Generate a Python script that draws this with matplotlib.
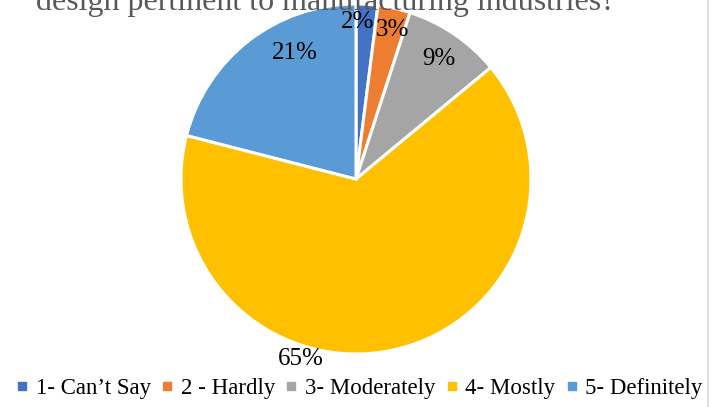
import numpy as np
import matplotlib.pyplot as plt
from matplotlib.lines import Line2D

plt.rcParams['font.family'] = ['Liberation Serif', 'DejaVu Serif']

labels = ['1- Can\u2019t Say', '2 - Hardly', '3- Moderately', '4- Mostly', '5- Definitely']
values = [2, 3, 9, 65, 21]
pct_text = ['2%', '3%', '9%', '65%', '21%']
colors = ['#4472C4', '#ED7D31', '#A5A5A5', '#FFC000', '#5B9BD5']
title = 'design pertinent to manufacturing industries?'

W, H = 724, 407
cx, cy, R = 356, 179, 175

fig = plt.figure(figsize=(W / 100, H / 100), dpi=100)
ax = fig.add_axes([(cx - R) / W, (H - cy - R) / H, 2 * R / W, 2 * R / H])
ax.pie(values, colors=colors, startangle=90, counterclock=False, radius=1,
       wedgeprops=dict(edgecolor='white', linewidth=2.2))
ax.set_xlim(-1, 1)
ax.set_ylim(-1, 1)
ax.axis('off')

# label placement: (angle clockwise from top, radius fraction)
label_pos = [(0.7, 0.90), (13.6, 0.875), (34.6, 0.83), (197.2, 1.075), (-25.8, 0.80)]
for t, (a, r) in zip(pct_text, label_pos):
    th = np.deg2rad(a)
    ax.text(r * np.sin(th), r * np.cos(th), t, ha='center', va='center',
            fontsize=18, color='black')

fig.text(0.45, 1 - 10 / H, title, ha='center', va='baseline',
         fontsize=23, color='#595959')

# right border line
fig.add_artist(Line2D([708 / W, 708 / W], [0, 1], color='#D9D9D9', lw=1.2))

handles = [Line2D([], [], marker='s', linestyle='none', markersize=6,
                  markerfacecolor=c, markeredgecolor=c) for c in colors]
fig.legend(handles, labels, loc='lower center', bbox_to_anchor=(0.496, -0.015),
           ncol=5, frameon=False, fontsize=16.5, handlelength=0.6,
           handletextpad=0.3, columnspacing=0.4, borderaxespad=0.2)

fig.savefig('out.png', dpi=100)
